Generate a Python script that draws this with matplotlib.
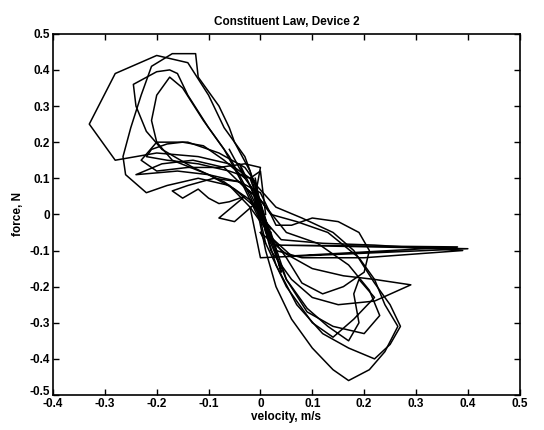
import matplotlib

matplotlib.use("Agg")
import matplotlib.pyplot as plt
import matplotlib.transforms as mtransforms
import numpy as np

### Measured velocity / force pairs, one list per sweep of the device
# sweeps through the upper-left quadrant
vel_1 = [0.02, 0.0, -0.02, -0.06, -0.12, -0.20, -0.28, -0.33, -0.28, -0.20, -0.14, -0.10, -0.07, -0.03, -0.01, 0.01, 0.03]
frc_1 = [-0.08, 0.02, 0.10, 0.14, 0.16, 0.17, 0.15, 0.25, 0.39, 0.44, 0.42, 0.33, 0.24, 0.16, 0.08, -0.02, -0.10]

vel_2 = [0.0, -0.02, -0.05, -0.06, -0.08, -0.12, -0.125, -0.17, -0.21, -0.23, -0.25, -0.265, -0.26, -0.22, -0.18, -0.12, -0.06, -0.02, 0.02]
frc_2 = [0.0, 0.12, 0.20, 0.24, 0.30, 0.38, 0.445, 0.445, 0.41, 0.33, 0.24, 0.16, 0.11, 0.06, 0.08, 0.10, 0.08, 0.02, -0.06]

vel_3 = [0.01, -0.03, -0.06, -0.10, -0.14, -0.16, -0.175, -0.20, -0.245, -0.24, -0.22, -0.19, -0.13, -0.07, -0.02, 0.02]
frc_3 = [-0.04, 0.08, 0.16, 0.24, 0.33, 0.39, 0.40, 0.395, 0.36, 0.30, 0.23, 0.18, 0.13, 0.09, 0.04, -0.04]

vel_4 = [0.0, -0.04, -0.07, -0.11, -0.15, -0.175, -0.20, -0.21, -0.20, -0.17, -0.10, -0.05, -0.01, 0.02]
frc_4 = [-0.02, 0.10, 0.18, 0.26, 0.35, 0.38, 0.33, 0.26, 0.20, 0.15, 0.11, 0.07, 0.02, -0.06]

vel_5 = [0.01, -0.03, -0.07, -0.11, -0.15, -0.18, -0.21, -0.22, -0.18, -0.12, -0.06, -0.02, 0.0, 0.01]
frc_5 = [0.02, 0.10, 0.15, 0.19, 0.20, 0.195, 0.18, 0.16, 0.15, 0.14, 0.12, 0.10, 0.12, 0.0]

vel_6 = [0.0, -0.04, -0.09, -0.14, -0.17, -0.15, -0.12, -0.10, -0.08, -0.06, -0.03, -0.08, -0.05, -0.01, 0.02]
frc_6 = [0.06, 0.09, 0.10, 0.08, 0.065, 0.045, 0.07, 0.045, 0.03, 0.035, 0.05, -0.01, -0.02, 0.03, -0.05]

vel_7 = [0.01, -0.02, -0.07, -0.13, -0.19, -0.24, -0.16, -0.10, -0.04, -0.01, 0.01]
frc_7 = [-0.03, 0.06, 0.13, 0.15, 0.14, 0.11, 0.12, 0.11, 0.09, 0.05, -0.08]

vel_8 = [-0.01, -0.01, -0.03, -0.08, -0.14, -0.20, -0.23, -0.20, -0.14, -0.08, -0.03, 0.0, -0.01, 0.02]
frc_8 = [0.03, 0.09, 0.13, 0.17, 0.20, 0.20, 0.15, 0.12, 0.13, 0.13, 0.14, 0.13, 0.05, -0.07]

vel_9 = [-0.06, -0.03, -0.04, 0.0, -0.01, 0.02, 0.01, 0.04, 0.03]
frc_9 = [0.18, 0.10, 0.14, 0.02, 0.08, -0.06, -0.02, -0.16, -0.10]

# sweeps through the lower-right quadrant
vel_10 = [-0.01, 0.01, 0.03, 0.06, 0.10, 0.14, 0.17, 0.21, 0.24, 0.265, 0.24, 0.22, 0.19, 0.13, 0.07, 0.02, -0.02]
frc_10 = [0.04, -0.10, -0.20, -0.29, -0.37, -0.43, -0.46, -0.43, -0.38, -0.31, -0.25, -0.18, -0.12, -0.05, -0.02, 0.0, 0.08]

vel_11 = [-0.01, 0.03, 0.07, 0.12, 0.17, 0.22, 0.25, 0.27, 0.25, 0.22, 0.18, 0.14, 0.08, 0.03, -0.02]
frc_11 = [0.05, -0.14, -0.25, -0.33, -0.37, -0.40, -0.36, -0.31, -0.25, -0.19, -0.10, -0.05, -0.01, 0.02, 0.10]

vel_12 = [-0.02, 0.02, 0.05, 0.09, 0.13, 0.17, 0.19, 0.18, 0.19, 0.22, 0.18, 0.14, 0.10, 0.05, 0.0]
frc_12 = [0.08, -0.08, -0.18, -0.26, -0.31, -0.35, -0.30, -0.22, -0.18, -0.23, -0.29, -0.34, -0.30, -0.20, -0.05]

vel_13 = [0.0, 0.03, 0.06, 0.10, 0.15, 0.19, 0.21, 0.20, 0.16, 0.12, 0.08, 0.05, 0.02, -0.01]
frc_13 = [0.06, -0.03, -0.03, -0.01, -0.02, -0.05, -0.10, -0.16, -0.20, -0.22, -0.19, -0.12, -0.06, 0.03]

vel_14 = [0.0, 0.05, 0.10, 0.16, 0.22, 0.29, 0.22, 0.15, 0.10, 0.06, 0.02, -0.01]
frc_14 = [-0.05, -0.11, -0.15, -0.17, -0.18, -0.195, -0.24, -0.25, -0.23, -0.18, -0.10, 0.06]

vel_15 = [0.02, 0.05, 0.09, 0.14, 0.20, 0.23, 0.21, 0.17, 0.11, 0.05, 0.0]
frc_15 = [-0.05, -0.18, -0.27, -0.31, -0.33, -0.28, -0.21, -0.14, -0.08, -0.05, 0.04]

# short excursions to high velocity
vel_16 = [-0.02, 0.0, 0.40, 0.03, 0.38, 0.06, 0.01, -0.01]
frc_16 = [0.02, -0.12, -0.095, -0.085, -0.09, -0.115, -0.05, 0.10]

vel_17 = [0.01, 0.04, 0.12, 0.22, 0.39, 0.20, 0.08, 0.03, -0.01]
frc_17 = [-0.02, -0.07, -0.08, -0.085, -0.10, -0.12, -0.12, -0.10, 0.07]

SWEEPS = [
    (vel_1, frc_1), (vel_2, frc_2), (vel_3, frc_3), (vel_4, frc_4),
    (vel_5, frc_5), (vel_6, frc_6), (vel_7, frc_7), (vel_8, frc_8),
    (vel_9, frc_9), (vel_10, frc_10), (vel_11, frc_11), (vel_12, frc_12),
    (vel_13, frc_13), (vel_14, frc_14), (vel_15, frc_15), (vel_16, frc_16),
    (vel_17, frc_17),
]

XTICKS = [-0.4, -0.3, -0.2, -0.1, 0, 0.1, 0.2, 0.3, 0.4, 0.5]
YTICKS = [-0.5, -0.4, -0.3, -0.2, -0.1, 0, 0.1, 0.2, 0.3, 0.4, 0.5]

plt.rcParams["font.family"] = ["Liberation Sans", "DejaVu Sans"]
plt.rcParams["font.weight"] = "bold"
plt.rcParams["font.size"] = 8.5


def tick_text(v):
    if v == 0:
        return "0"
    return f"{v:.1f}"


fig = plt.figure(figsize=(5.44, 4.30), dpi=100)
ax = fig.add_axes([0.0974, 0.0814, 0.858, 0.84])

for vel, frc in SWEEPS:
    ax.plot(vel, frc, color="black", linewidth=1.1)

ax.set_xlim(-0.4, 0.5)
ax.set_ylim(-0.5, 0.5)
ax.set_xticks(XTICKS)
ax.set_xticklabels([tick_text(v) for v in XTICKS])
ax.set_yticks(YTICKS)
ax.set_yticklabels([tick_text(v) for v in YTICKS])
ax.tick_params(direction="in", length=4, width=1, top=True, right=True, pad=2)
for spine in ax.spines.values():
    spine.set_linewidth(1.2)

# lowest y label sits just above the first x label, nudge it up a little
low_label = ax.get_yticklabels()[0]
low_label.set_transform(
    low_label.get_transform()
    + mtransforms.ScaledTranslation(0, 3 / 72, fig.dpi_scale_trans)
)

ax.set_title("Constituent Law, Device 2", fontsize=8.5, fontweight="bold", pad=6)
ax.set_xlabel("velocity, m/s", fontsize=8.5, fontweight="bold", labelpad=1)
ax.set_ylabel("force, N", fontsize=8.5, fontweight="bold", labelpad=4)

fig.savefig("out.png", dpi=100)
